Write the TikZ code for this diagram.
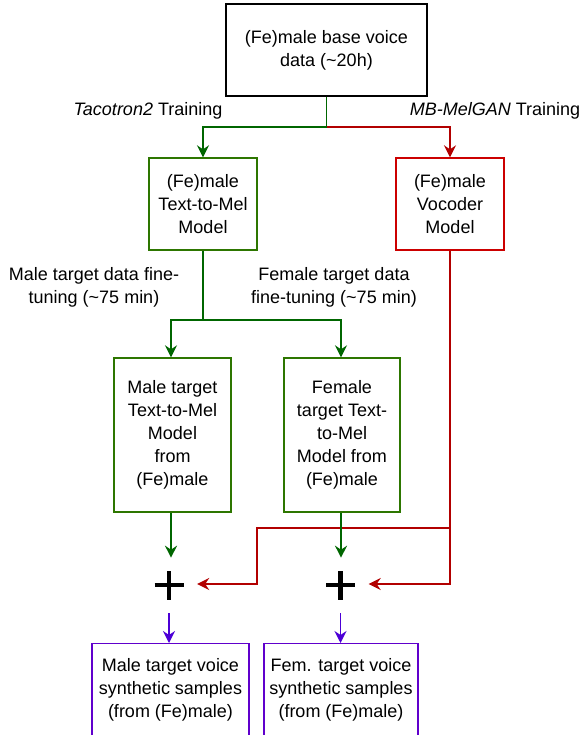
\documentclass[tikz,border=0pt]{standalone}
\usepackage{fontspec}
\setmainfont{Liberation Sans}
\usetikzlibrary{arrows.meta}
\definecolor{lgreen}{HTML}{006600}
\definecolor{bgreen}{HTML}{2D7600}
\definecolor{lred}{HTML}{B20000}
\definecolor{bred}{HTML}{CC0000}
\definecolor{lblue}{HTML}{4C00D6}
\definecolor{bblue}{HTML}{6000CC}
\begin{document}
\begin{tikzpicture}[x=1pt, y=-1pt,
  every node/.style={font=\fontsize{18}{23}\selectfont, align=center, inner sep=0pt},
  box/.style={draw, line width=1.4pt, fill=white},
  conn/.style={line width=1.6pt, -{Stealth[length=12pt, width=12pt, inset=4pt]}},
  plusnode/.style={minimum size=56pt, path picture={
    \draw[line width=4.2pt] ([xshift=-14.5pt]path picture bounding box.center) -- ([xshift=14.5pt]path picture bounding box.center);
    \draw[line width=4.2pt] ([yshift=-14.5pt]path picture bounding box.center) -- ([yshift=14.5pt]path picture bounding box.center);}}
]
\clip (0,0) rectangle (583,735);

% boxes
\node[box, minimum width=201pt, minimum height=92pt] (base) at (326.5,50) {(Fe)male base voice\\data (\textasciitilde20h)};
\node[box, draw=bgreen, minimum width=108pt, minimum height=92pt] (ttm) at (203,204) {(Fe)male\\Text-to-Mel\\Model};
\node[box, draw=bred, minimum width=108pt, minimum height=92pt] (voc) at (450,204) {(Fe)male\\Vocoder\\Model};
\node[box, draw=bgreen, minimum width=117pt, minimum height=154pt] (mttm) at (172.5,435) {Male target\\Text-to-Mel\\Model\\from\\(Fe)male};
\node[box, draw=bgreen, minimum width=116pt, minimum height=154pt] (fttm) at (342,435) {Female\\target Text-\\to-Mel\\Model from\\(Fe)male};
\node[plusnode] (p1) at (169,585) {};
\node[plusnode] (p2) at (340.5,585) {};
\node[box, draw=bblue, minimum width=157pt, minimum height=130pt, anchor=north] (mout) at (170.5,643) {};
\node[box, draw=bblue, minimum width=154pt, minimum height=130pt, anchor=north] (fout) at (341,643) {};
\node (mtxt) at (170.5,689.5) {Male target voice\\synthetic samples\\(from (Fe)male)};
\node (ftxt) at (341,689.5) {Fem. target voice\\synthetic samples\\(from (Fe)male)};

% labels
\node (lt) at (148,111) {\textit{Tacotron2} Training};
\node (lm) at (495,111) {\textit{MB-MelGAN} Training};
\node (lmf) at (94,287) {Male target data fine-\\tuning (\textasciitilde75 min)};
\node (lff) at (334,287) {Female target data\\fine-tuning (\textasciitilde75 min)};

% junction points
\coordinate (jtop) at (326.5,127);
\coordinate (jft) at (203,320);
\coordinate (rb) at (257,528);

% training connectors
\draw[conn, lred] (base.south) -- (jtop) -| (voc.north);
\draw[conn, lgreen] (base.south) -- (jtop) -| (ttm.north);

% fine-tuning connectors
\draw[conn, lgreen] (ttm.south) -- (jft) -| ([xshift=-1.5pt]mttm.north);
\draw[conn, lgreen] (ttm.south) -- (jft) -| ([xshift=-1pt]fttm.north);

% vocoder connectors
\draw[conn, lred] (voc.south) |- (rb) |- ([yshift=1pt]p1.east);
\draw[conn, lred] (voc.south) |- ([yshift=1pt]p2.east);

% text-to-mel to combination
\draw[conn, lgreen] ([xshift=-1.5pt]mttm.south) -- ++(0,45);
\draw[conn, lgreen] ([xshift=-1pt]fttm.south) -- ++(0,45);

% combination to samples
\draw[conn, lblue] (p1.south) -- (mout.north -| p1.south);
\draw[conn, lblue] (p2.south) -- (fout.north -| p2.south);
\end{tikzpicture}
\end{document}
